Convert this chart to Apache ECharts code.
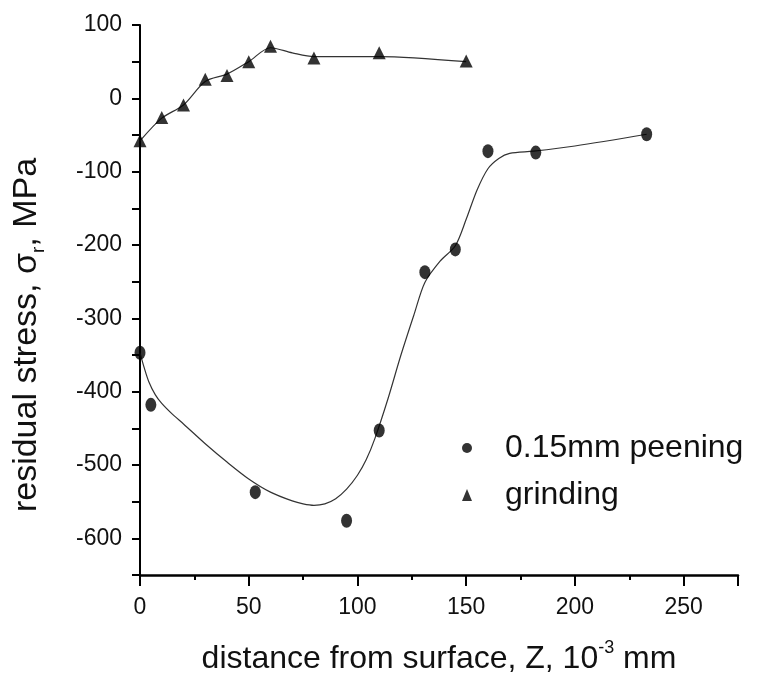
<!DOCTYPE html>
<html>
<head>
<meta charset="utf-8">
<script src="https://cdn.jsdelivr.net/npm/echarts@6/dist/echarts.min.js"></script>
<style>html,body{margin:0;padding:0;background:#fff}#c{width:768px;height:688px}</style>
</head>
<body>
<div id="c"></div>
<script>
// Measured points
const peeningX = [0, 5, 53, 95, 110, 131, 145, 160, 182, 233];
const peeningY = [-347, -418, -537, -576, -453, -237, -206, -72, -74, -49];
const grindingX = [0, 10, 20, 30, 40, 50, 60, 80, 110, 150];
const grindingY = [-58, -26, -9, 26, 31, 50, 71, 55, 62, 51];
// Fitted curves
const peeningFitX = [0, 2, 4, 7, 10, 15, 20, 30, 40, 50, 60, 70, 75, 80, 85, 90, 95, 100, 104, 108, 114, 120, 126, 131, 138, 145, 150, 155, 160, 165, 170, 181, 200, 233];
const peeningFitY = [-347, -368, -386, -404, -416, -431, -444, -471, -496, -519, -537, -549, -553, -555, -553, -546, -533, -514, -493, -464, -410, -350, -295, -251, -222, -201, -165, -125, -96, -82, -75, -72, -65, -49];
const grindingFitX = [0, 10, 20, 30, 40, 50, 60, 70, 80, 110, 150];
const grindingFitY = [-58, -27, -9, 23, 33, 50, 69, 62, 57, 57, 50];
// Axis ticks
const xTickLabels = [0, 50, 100, 150, 200, 250];
const yTickLabels = [100, 0, -100, -200, -300, -400, -500, -600];

const zip = (a, b) => a.map((v, i) => [v, b[i]]);
const FONT = 'Liberation Sans, Arial, sans-serif';

const chart = echarts.init(document.getElementById('c'), null, {renderer: 'canvas'});
chart.setOption({
  animation: false,
  backgroundColor: '#fff',
  grid: {left: 140, right: 30, top: 25, bottom: 113, containLabel: false},
  xAxis: {
    type: 'value', min: 0, max: 275, interval: 50,
    axisLine: {show: true, onZero: false, lineStyle: {color: '#000', width: 2.5}},
    axisTick: {show: true, inside: false, length: 11, lineStyle: {color: '#000', width: 2}},
    minorTick: {show: true, splitNumber: 2, length: 5, lineStyle: {color: '#000', width: 2}},
    splitLine: {show: false}, minorSplitLine: {show: false},
    axisLabel: {
      margin: 21, fontSize: 23, fontFamily: FONT, color: '#111',
      formatter: v => xTickLabels.includes(v) ? String(v) : ''
    },
    name: '{a|distance from surface, Z, 10}{s|-3}{a| mm}',
    nameLocation: 'middle', nameGap: 64,
    nameTextStyle: {
      rich: {
        a: {fontSize: 32, fontFamily: FONT, color: '#111', lineHeight: 36, verticalAlign: 'bottom'},
        s: {fontSize: 18, fontFamily: FONT, color: '#111', lineHeight: 36, verticalAlign: 'top', padding: [0, 0, 14, 0]}
      }
    }
  },
  yAxis: {
    type: 'value', min: -650, max: 100, interval: 50,
    axisLine: {show: true, onZero: false, lineStyle: {color: '#000', width: 2}},
    axisTick: {show: true, inside: false, length: 8, lineStyle: {color: '#000', width: 2}},
    splitLine: {show: false},
    axisLabel: {
      margin: 18, fontSize: 23, fontFamily: FONT, color: '#111',
      formatter: v => yTickLabels.includes(v) ? String(v) : ''
    }
  },
  graphic: [{
    type: 'text', x: 29, y: 335, rotation: Math.PI / 2,
    style: {
      text: '{a|residual stress, σ}{b|r}{a|, MPa}',
      align: 'center', verticalAlign: 'middle',
      rich: {
        a: {fontSize: 34, fontFamily: FONT, fill: '#111', lineHeight: 38, verticalAlign: 'top'},
        b: {fontSize: 19, fontFamily: FONT, fill: '#111', lineHeight: 38, verticalAlign: 'bottom'}
      }
    }
  }],
  legend: {
    orient: 'vertical', left: 457, top: 427,
    itemWidth: 10, itemHeight: 12, itemGap: 15,
    textStyle: {fontSize: 32, fontFamily: FONT, color: '#111', lineHeight: 30, padding: [0, 0, 0, 28]},
    data: [{name: '0.15mm peening', icon: 'circle'}, {name: 'grinding', icon: 'triangle'}]
  },
  series: [
    {
      name: 'peening fit', type: 'line', data: zip(peeningFitX, peeningFitY),
      showSymbol: false, smooth: 0.3, silent: true,
      lineStyle: {color: '#333', width: 1.2}, z: 1
    },
    {
      name: 'grinding fit', type: 'line', data: zip(grindingFitX, grindingFitY),
      showSymbol: false, smooth: 0.3, silent: true,
      lineStyle: {color: '#333', width: 1.2}, z: 1
    },
    {
      name: '0.15mm peening', type: 'scatter', data: zip(peeningX, peeningY),
      symbol: 'circle', symbolSize: [11, 14], itemStyle: {color: '#000'}, z: 3
    },
    {
      name: 'grinding', type: 'scatter', data: zip(grindingX, grindingY),
      symbol: 'triangle', symbolSize: [13, 13], itemStyle: {color: '#000'}, z: 3
    }
  ]
});
</script>
</body>
</html>
